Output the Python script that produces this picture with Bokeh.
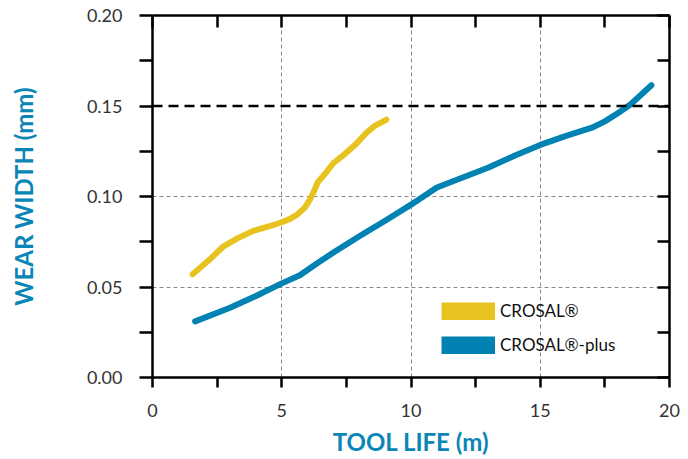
from bokeh.plotting import figure
from bokeh.models import (Range1d, FixedTicker, LinearAxis, Span, Legend, LegendItem,
                          CustomJSTickFormatter, NumeralTickFormatter, ColumnDataSource)
from bokeh.embed import file_html
from bokeh.resources import INLINE

# Data
crosal_x = [1.55, 2.2, 2.75, 3.3, 3.9, 4.5, 4.95, 5.3, 5.6, 5.9, 6.1, 6.25, 6.4, 6.7, 7.0, 7.4, 7.8, 8.3, 8.6, 9.05]
crosal_y = [0.057, 0.065, 0.0725, 0.077, 0.081, 0.0835, 0.0855, 0.0875, 0.090, 0.094, 0.0985, 0.103, 0.108, 0.113,
            0.1185, 0.123, 0.128, 0.1355, 0.139, 0.1425]
plus_x = [1.65, 3.0, 4.0, 5.0, 5.7, 6.4, 7.0, 8.0, 9.0, 10.0, 11.0, 12.0, 13.0, 14.0, 15.0, 16.0, 17.0, 17.5,
          18.0, 18.5, 19.3]
plus_y = [0.031, 0.0385, 0.045, 0.052, 0.0565, 0.0634, 0.069, 0.078, 0.0866, 0.0955, 0.105, 0.1105, 0.116, 0.1225,
          0.1285, 0.1335, 0.138, 0.1415, 0.146, 0.151, 0.1615]
x_ticks = [0, 5, 10, 15, 20]
x_minor = [2.5, 7.5, 12.5, 17.5]
y_ticks = [0.0, 0.05, 0.10, 0.15, 0.20]
y_minor = [0.025, 0.075, 0.125, 0.175]
limit_y = 0.15
names = ["CROSAL®", "CROSAL®-plus"]

YELLOW = "#E8C21E"
BLUE = "#0083B2"
LABEL_BLUE = "#0A86B6"
FONT = "Lato"

p = figure(width=683, height=458, output_backend="svg", toolbar_location=None,
           x_range=Range1d(0, 20), y_range=Range1d(0, 0.2),
           min_border_left=152, min_border_right=14, min_border_top=15, min_border_bottom=10,
           x_axis_label="TOOL LIFE (m)", y_axis_label="WEAR WIDTH (mm)")
p.outline_line_color = None
p.background_fill_color = "white"

# Grid
p.xgrid.ticker = FixedTicker(ticks=[5, 10, 15])
p.ygrid.ticker = FixedTicker(ticks=[0.05, 0.10])
for g in (p.xgrid, p.ygrid):
    g.grid_line_color = "#8a8a8a"
    g.grid_line_dash = "4 3"
    g.grid_line_width = 1

# Limit line
p.add_layout(Span(location=limit_y, dimension="width", line_color="black",
                  line_width=2.5, line_dash="10 6"))

# Data lines
l1 = p.line(crosal_x, crosal_y, line_color=YELLOW, line_width=6, line_cap="round", line_join="round")
l2 = p.line(plus_x, plus_y, line_color=BLUE, line_width=6, line_cap="round", line_join="round")

# Legend proxies (thick bars, nothing drawn in the plot)
nan = float("nan")
proxy = ColumnDataSource(data=dict(x=[nan], y=[nan]))
g1 = p.line("x", "y", source=proxy, line_color=YELLOW, line_width=18, line_cap="butt")
g2 = p.line("x", "y", source=proxy, line_color=BLUE, line_width=18, line_cap="butt")
legend = Legend(items=[LegendItem(label=names[0], renderers=[g1]),
                       LegendItem(label=names[1], renderers=[g2])],
                location=(289, 22), glyph_width=54, glyph_height=18, label_height=18,
                label_standoff=5, spacing=13, padding=0, margin=0,
                border_line_color=None, background_fill_alpha=0,
                label_text_font=FONT, label_text_font_size="17px", label_text_color="#111111")
p.add_layout(legend)

def style_axis(ax):
    ax.axis_line_width = 2.5
    ax.axis_line_color = "black"
    ax.major_tick_line_width = 2.5
    ax.minor_tick_line_width = 2.5
    ax.major_tick_line_color = "black"
    ax.minor_tick_line_color = "black"
    ax.major_label_text_font = FONT
    ax.major_label_text_font_size = "18px"
    ax.major_label_text_color = "#333333"
    ax.axis_label_text_font = FONT
    ax.axis_label_text_font_size = "24px"
    ax.axis_label_text_font_style = "bold"
    ax.axis_label_text_color = LABEL_BLUE

xa = p.xaxis[0]
ya = p.yaxis[0]
style_axis(xa)
style_axis(ya)
xa.ticker = FixedTicker(ticks=x_ticks, minor_ticks=x_minor)
ya.ticker = FixedTicker(ticks=y_ticks, minor_ticks=y_minor)
ya.formatter = NumeralTickFormatter(format="0.00")
xa.major_tick_in = 0
xa.major_tick_out = 10
xa.minor_tick_in = 0
xa.minor_tick_out = 10
xa.major_label_standoff = 16
xa.axis_label_standoff = 7
ya.major_tick_in = 0
ya.major_tick_out = 13
ya.minor_tick_in = 0
ya.minor_tick_out = 13
ya.major_label_standoff = 17
ya.axis_label_standoff = 46

blank = CustomJSTickFormatter(code="return ''")
ra = LinearAxis(ticker=FixedTicker(ticks=y_ticks, minor_ticks=y_minor), formatter=blank)
ta = LinearAxis(ticker=FixedTicker(ticks=x_ticks, minor_ticks=x_minor), formatter=blank)
for ax in (ra, ta):
    style_axis(ax)
    ax.major_tick_in = 12
    ax.major_tick_out = 0
    ax.minor_tick_in = 12
    ax.minor_tick_out = 0
    ax.major_label_standoff = 0
    ax.major_label_text_font_size = "1px"
p.add_layout(ra, "right")
p.add_layout(ta, "above")

open("out.html", "w").write(file_html(p, INLINE))
